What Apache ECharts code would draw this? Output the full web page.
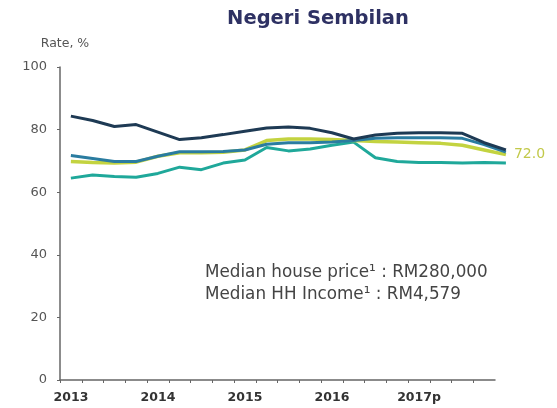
<!DOCTYPE html>
<html>
<head>
<meta charset="utf-8">
<script src="https://cdn.jsdelivr.net/npm/echarts@6/dist/echarts.min.js"></script>
<style>html,body{margin:0;padding:0;background:#fff}#c{width:557px;height:408px}</style>
</head>
<body>
<div id="c"></div>
<script>
// quarterly observations 2013Q1 .. 2018Q1
const quarters = ['2013Q1','2013Q2','2013Q3','2013Q4','2014Q1','2014Q2','2014Q3','2014Q4','2015Q1','2015Q2','2015Q3','2015Q4','2016Q1','2016Q2','2016Q3','2016Q4','2017Q1','2017Q2','2017Q3','2017Q4','2018Q1'];
const yearLabels = ['2013','2014','2015','2016','2017p'];
const yTicks = [0,20,40,60,80,100];

const seriesDark   = [84.3,82.9,81.0,81.6,79.2,76.8,77.4,78.4,79.5,80.5,80.8,80.4,79.0,77.0,78.3,78.8,79.0,79.0,78.8,75.8,73.5];
const seriesBlue   = [71.7,70.8,69.8,69.8,71.5,72.9,72.9,73.0,73.5,75.3,75.8,75.8,76.0,76.5,77.2,77.4,77.4,77.4,77.2,75.2,72.8];
const seriesYellow = [69.8,69.5,69.3,69.6,71.5,72.6,72.6,72.8,73.5,76.5,77.0,77.0,76.8,76.5,76.2,76.0,75.8,75.6,75.0,73.5,72.0];
const seriesTeal   = [64.5,65.5,65.0,64.8,66.0,68.0,67.2,69.3,70.3,74.3,73.2,73.8,75.0,76.0,71.0,69.8,69.5,69.5,69.3,69.5,69.3];

const pts = arr => arr.map((v,i)=>[i+0.5, v]);

const chart = echarts.init(document.getElementById('c'), null, {renderer:'canvas'});
const lineBase = {type:'line', showSymbol:false, symbol:'none', clip:false, smooth:false, xAxisIndex:1, yAxisIndex:1};
const axisCol = '#666';
chart.setOption({
  animation:false,
  backgroundColor:'#ffffff',
  title:{text:'Negeri Sembilan', left:313, top:4, textAlign:'center',
    textStyle:{fontFamily:'DejaVu Sans', fontWeight:'bold', fontSize:19.5, color:'#2e3163'}},
  grid:[
    {left:60, right:62, top:67, bottom:28},
    {left:60, right:51.1, top:67, bottom:28}
  ],
  xAxis:[
    {type:'value', gridIndex:0, min:0, max:quarters.length-1, interval:1,
      axisLine:{lineStyle:{color:axisCol, width:1.5}},
      axisTick:{show:true, length:3, lineStyle:{color:axisCol}},
      splitLine:{show:false},
      axisLabel:{margin:11, color:'#333', fontFamily:'DejaVu Sans', fontWeight:'bold', fontSize:12.5,
        padding:[0,0,0,22], showMinLabel:true, showMaxLabel:false,
        formatter:v=> (v%4===0 && v/4 < yearLabels.length) ? yearLabels[v/4] : ''}},
    {type:'value', gridIndex:1, min:0, max:quarters.length-0.5, show:false}
  ],
  yAxis:[
    {type:'value', gridIndex:0, min:0, max:100, interval:20, name:'Rate, %', nameLocation:'end',
      nameGap:17, nameTextStyle:{color:'#555', fontFamily:'DejaVu Sans', fontSize:12.5, align:'center', padding:[0,0,0,10]},
      axisLine:{show:true, lineStyle:{color:axisCol, width:1.5}},
      axisTick:{show:true, length:3, lineStyle:{color:axisCol}},
      splitLine:{show:false},
      axisLabel:{margin:13, color:'#555', fontFamily:'DejaVu Sans', fontSize:13,
        formatter:v=> yTicks.includes(v) ? String(v) : ''}},
    {type:'value', gridIndex:1, min:0, max:100, show:false}
  ],
  graphic:[
    {type:'text', left:205, top:264, style:{text:'Median house price\u00b9 : RM280,000', fill:'#444', font:'16.8px "DejaVu Sans"'}},
    {type:'text', left:205, top:286, style:{text:'Median HH Income\u00b9 : RM4,579', fill:'#444', font:'16.8px "DejaVu Sans"'}}
  ],
  series:[
    Object.assign({}, lineBase, {name:'teal', data:pts(seriesTeal), lineStyle:{color:'#1fa89a', width:3}, z:2}),
    Object.assign({}, lineBase, {name:'yellow', data:pts(seriesYellow), lineStyle:{color:'#c3d340', width:3.5}, z:3,
      endLabel:{show:true, formatter:p=>p.value[1].toFixed(1), color:'#c2c94a', fontFamily:'DejaVu Sans', fontSize:14, distance:8}}),
    Object.assign({}, lineBase, {name:'blue', data:pts(seriesBlue), lineStyle:{color:'#2a7ca0', width:3}, z:4}),
    Object.assign({}, lineBase, {name:'dark', data:pts(seriesDark), lineStyle:{color:'#1e3a54', width:3}, z:5})
  ]
});
</script>
</body>
</html>
